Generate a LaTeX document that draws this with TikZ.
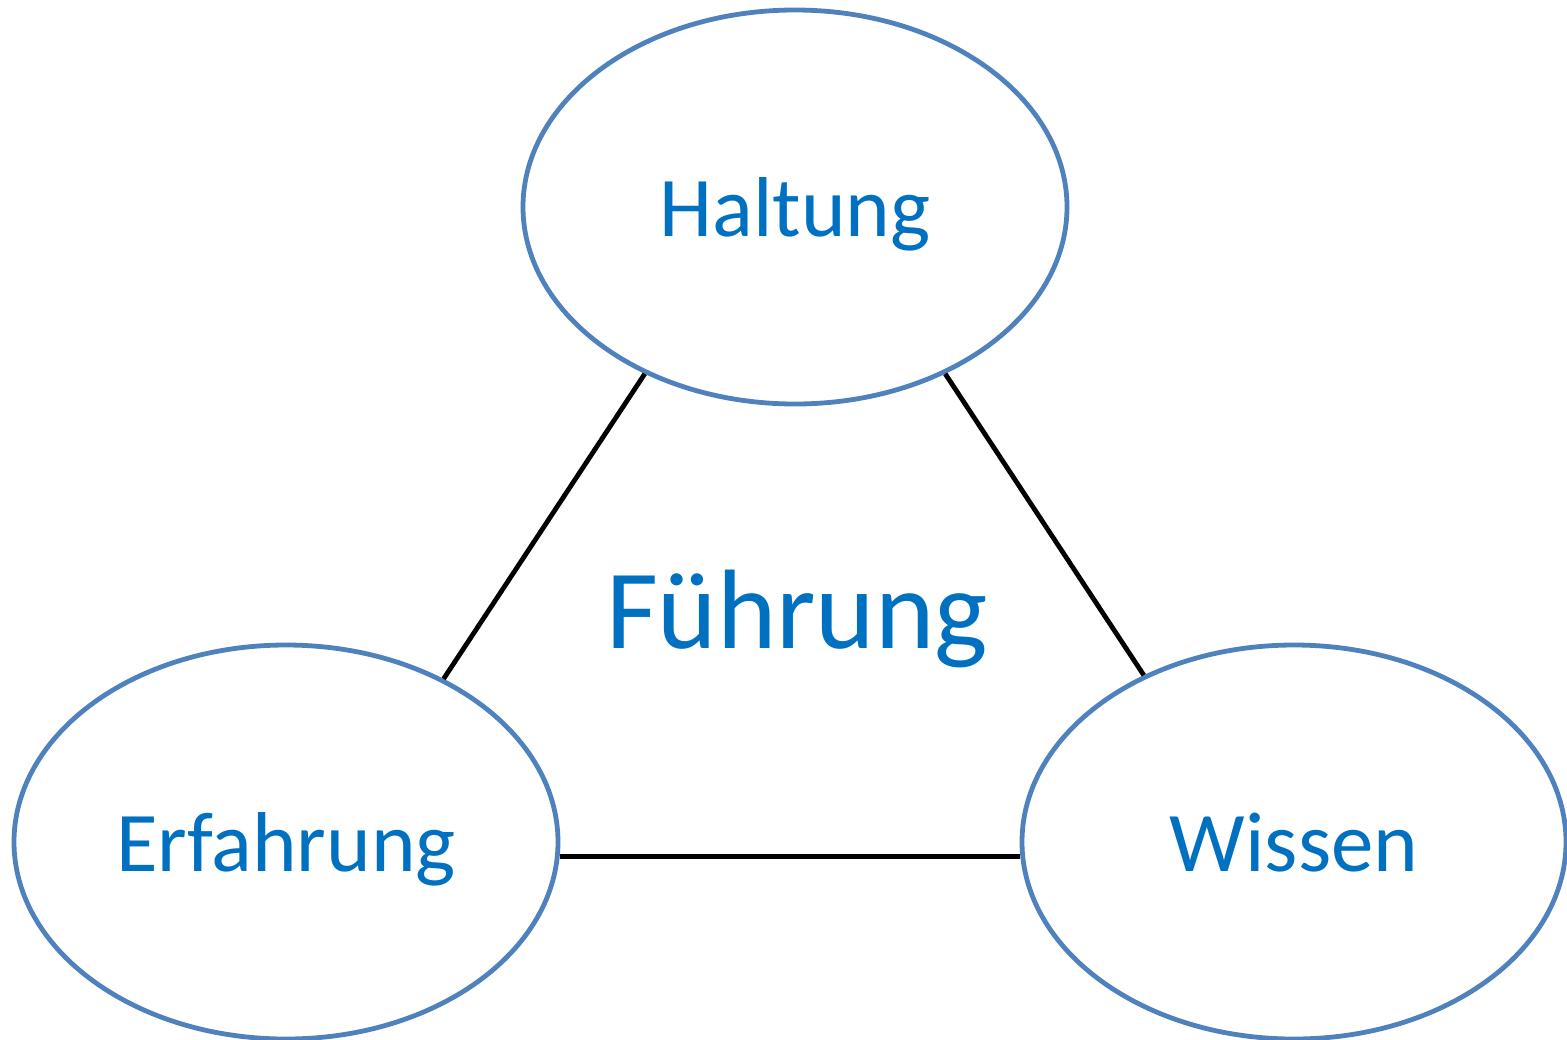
\documentclass[tikz,border=0pt]{standalone}
\usepackage{fontspec}
\setmainfont{Carlito}
\usepackage{xcolor}
\usetikzlibrary{shapes.geometric}
\definecolor{ringblue}{RGB}{79,129,189}
\definecolor{textblue}{RGB}{0,112,192}

\begin{document}
\begin{tikzpicture}[x=0.5pt,y=0.5pt,yscale=-1,xscale=1,
  ring/.style={ellipse,draw=ringblue,line width=2.4pt,minimum width=272pt,minimum height=197pt,inner sep=0pt,
    text=textblue,font=\fontsize{42.5}{48}\selectfont,text depth=0pt},
  link/.style={draw=black,line width=2.4pt}]
\useasboundingbox (0,0) rectangle (1567,1039);

%Ellipses
\node [ring] (halt) at (795,207) {Haltung};
\node [ring] (erf) at (286,842) {Erfahrung};
\node [ring] (wis) at (1294,842) {Wissen};

% Text Node
\node [text=textblue,font=\fontsize{56.5}{64}\selectfont,inner sep=0pt,text depth=0pt] (fuehr) at (797,609) {Führung};

%Straight Lines
\draw [link] (halt.228) -- (erf.46) ;
\draw [link] (halt.-48) -- (wis.132) ;
\draw [link] (erf.-3) -- (wis.183) ;

\end{tikzpicture}
\end{document}
